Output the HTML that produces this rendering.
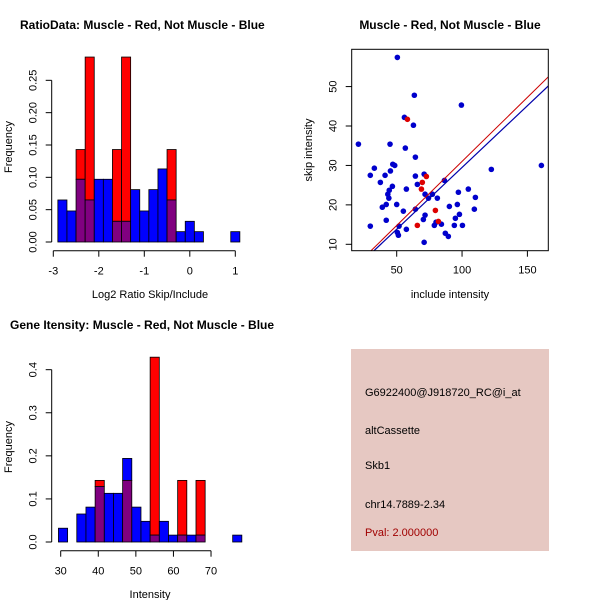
<!DOCTYPE html>
<html><head><meta charset="utf-8"><style>
html,body{margin:0;padding:0;background:#fff}
svg{display:block;font-family:"Liberation Sans",Arial,sans-serif}
</style></head><body>
<svg id="s" width="600" height="600" viewBox="0 0 600 600" xmlns="http://www.w3.org/2000/svg">
<rect width="600" height="600" fill="#fff"/>
<text x="20" y="29" font-size="12" font-weight="bold">RatioData: Muscle - Red, Not Muscle - Blue</text>
<text x="450" y="29" font-size="12" font-weight="bold" text-anchor="middle">Muscle - Red, Not Muscle - Blue</text>
<text x="10" y="329" font-size="12" font-weight="bold">Gene Itensity: Muscle - Red, Not Muscle - Blue</text>
<g id="p1"></g>
<g id="p2"></g>
<g id="p3"></g>
<g>
<rect x="351" y="349" width="198" height="202" fill="#e6c8c2"/>
<text x="365" y="396" font-size="11">G6922400@J918720_RC@i_at</text>
<text x="365" y="434" font-size="11">altCassette</text>
<text x="365" y="469" font-size="11">Skb1</text>
<text x="365" y="508" font-size="11">chr14.7889-2.34</text>
<text x="365" y="536" font-size="11" fill="#a00000">Pval: 2.000000</text>
</g>
</svg>
<script>
// Histogram 1 data
const ratioBinStart = -2.9;
const ratioBinWidth = 0.2;
const ratioBlue = [0.065,0.048,0.097,0.065,0.097,0.097,0.032,0.032,0.081,0.048,0.081,0.113,0.065,0.016,0.032,0.016,0,0,0,0.016];
const ratioRed  = [0,0,0.143,0.286,0,0,0.143,0.286,0,0,0,0,0.143,0,0,0,0,0,0,0];
const ratioXTicks = [-3,-2,-1,0,1];
const ratioYTicks = [0,0.05,0.10,0.15,0.20,0.25];
const ratioYLabels = ["0.00","0.05","0.10","0.15","0.20","0.25"];
// Histogram 2 data
const intBinStart = 29.4;
const intBinWidth = 2.44;
const intBlue = [0.032,0,0.065,0.081,0.129,0.113,0.113,0.194,0.081,0.048,0.016,0.048,0.016,0.016,0.016,0.016,0,0,0,0.016];
const intRed  = [0,0,0,0,0.143,0,0,0.143,0,0,0.429,0,0,0.143,0,0.143,0,0,0,0];
const intXTicks = [30,40,50,60,70];
const intYTicks = [0,0.1,0.2,0.3,0.4];
const intYLabels = ["0.0","0.1","0.2","0.3","0.4"];
// Scatter data
const blueX = [20.7,50.5,63.5,99.5,55.9,62.8,44.9,56.6,64.3,29.8,32.9,41.1,47,48.5,45.2,37.5,46.7,57.4,64.3,65.8,71,86.5,71.7,74.3,77.3,81.1,43.2,44.3,44,39,42,50,42,29.8,55.1,64.3,71.7,70.4,51.8,57.4,50.5,51.3,71,78.8,80.1,84.2,87.2,89.5,90.3,96.4,97.2,94.9,98,94.1,100.3,104.8,110.2,109.4,122.4,160.7];
const blueY = [35.4,57.4,47.8,45.3,42.2,40.2,35.4,34.4,32.1,27.5,29.3,27.5,30.3,30,28.6,25.7,24.7,24,27.3,25.2,27.8,26.2,22.7,21.7,22.7,21.7,22.7,23.7,21.7,19.4,20.1,20.1,16.1,14.6,18.4,18.9,17.4,16.3,14.6,13.8,13,12.3,10.5,14.8,15.6,15.1,12.8,12,19.6,20.1,23.2,16.6,17.6,14.8,14.8,24,21.9,18.9,29,30];
const redX = [58.2,72.7,69.6,68.9,79.6,81.9,65.8];
const redY = [41.7,27.2,25.7,24,18.6,15.8,14.8];
const redLine = [[30.4,8.4],[166.1,52.5]];
const blueLine = [[32.7,8.4],[166.1,50.2]];
const scatterXTicks = [50,100,150];
const scatterYTicks = [10,20,30,40,50];

const NS="http://www.w3.org/2000/svg";
function mk(parent,tag,attrs){const e=document.createElementNS(NS,tag);for(const k in attrs)e.setAttribute(k,attrs[k]);parent.appendChild(e);return e;}

function hist(g,o){
  const X=v=>o.x0+(v-o.xv0)*o.xs, Y=v=>o.y0-v*o.ys;
  for(let i=0;i<o.blue.length;i++){
    const a=X(o.start+i*o.w), b=X(o.start+(i+1)*o.w), bl=o.blue[i], rd=o.red[i];
    const lo=Math.min(bl,rd), hi=Math.max(bl,rd);
    if(hi<=0) continue;
    const top=mk(g,'rect',{x:a,y:Y(hi),width:b-a,height:Y(lo)-Y(hi),fill:rd>bl?'#ff0000':'#0000ff',stroke:'#000','stroke-width':0.8});
    
    
    if(lo>0){
      const p=mk(g,'rect',{x:a,y:Y(lo),width:b-a,height:Y(0)-Y(lo),fill:'#800080',stroke:'#000','stroke-width':0.8});
      
      
    }
  }
  const ax=mk(g,'line',{x1:X(o.xt[0]),x2:X(o.xt[o.xt.length-1]),y1:o.ay,y2:o.ay,stroke:'#000'});
  
  
  o.xt.forEach(t=>{
    mk(g,'line',{x1:X(t),x2:X(t),y1:o.ay,y2:o.ay+6,stroke:'#000'});
    const tx=mk(g,'text',{x:X(t),y:o.ay+24,'font-size':11,'text-anchor':'middle'});tx.textContent=t;
    
    
  });
  const ay=mk(g,'line',{x1:o.ax,x2:o.ax,y1:Y(o.yt[0]),y2:Y(o.yt[o.yt.length-1]),stroke:'#000'});
  
  
  o.yt.forEach((t,i)=>{
    mk(g,'line',{x1:o.ax-6,x2:o.ax,y1:Y(t),y2:Y(t),stroke:'#000'});
    const tx=mk(g,'text',{x:o.ax-15,y:Y(t),'font-size':11,'text-anchor':'middle',transform:`rotate(-90 ${o.ax-15} ${Y(t)})`});tx.textContent=o.yl[i];
    
    
  });
  const xl=mk(g,'text',{x:o.xlx,y:o.xly,'font-size':11,'text-anchor':'middle'});xl.textContent=o.xlab;
  
  
  const yl=mk(g,'text',{x:12,y:o.yly,'font-size':11,'text-anchor':'middle',transform:`rotate(-90 12 ${o.yly})`});yl.textContent='Frequency';
  
  
}
hist(document.getElementById('p1'),{x0:53.3,xv0:-3,xs:45.5,y0:242,ys:646.7,start:ratioBinStart,w:ratioBinWidth,blue:ratioBlue,red:ratioRed,xt:ratioXTicks,yt:ratioYTicks,yl:ratioYLabels,ay:250.7,ax:51.7,xlab:'Log2 Ratio Skip/Include',xlx:150,xly:298,yly:147});
hist(document.getElementById('p3'),{x0:60.7,xv0:30,xs:3.758,y0:542,ys:430.8,start:intBinStart,w:intBinWidth,blue:intBlue,red:intRed,xt:intXTicks,yt:intYTicks,yl:intYLabels,ay:550.7,ax:51.7,xlab:'Intensity',xlx:150,xly:598,yly:447});

(function(){
  const g=document.getElementById('p2');
  const X=v=>396.7+(v-50)*1.307, Y=v=>244.3-(v-10)*3.943;
  const L=351.7,R=548.3,T=49.3,B=250.7;
  mk(g,'defs',{}).innerHTML='<clipPath id="clp"><rect x="'+L+'" y="'+T+'" width="'+(R-L)+'" height="'+(B-T)+'"/></clipPath>';
  for(let i=0;i<blueX.length;i++){
    const c=mk(g,'circle',{cx:X(blueX[i]),cy:Y(blueY[i]),r:2.8,fill:'#0000cc'});
    
    
  }
  for(let i=0;i<redX.length;i++){
    const c=mk(g,'circle',{cx:X(redX[i]),cy:Y(redY[i]),r:2.8,fill:'#dd0000'});
    
    
  }
  const l1=mk(g,'line',{x1:X(redLine[0][0]),y1:Y(redLine[0][1]),x2:X(redLine[1][0]),y2:Y(redLine[1][1]),stroke:'#cc0000','stroke-width':1,'clip-path':'url(#clp)'});
  
  
  const l2=mk(g,'line',{x1:X(blueLine[0][0]),y1:Y(blueLine[0][1]),x2:X(blueLine[1][0]),y2:Y(blueLine[1][1]),stroke:'#0000aa','stroke-width':1.2,'clip-path':'url(#clp)'});
  
  
  const box=mk(g,'rect',{x:L,y:T,width:R-L,height:B-T,fill:'none',stroke:'#000'});
  
  
  scatterXTicks.forEach(t=>{
    mk(g,'line',{x1:X(t),x2:X(t),y1:B,y2:B+6,stroke:'#000'});
    const tx=mk(g,'text',{x:X(t),y:B+23,'font-size':11,'text-anchor':'middle'});tx.textContent=t;
    
    
  });
  scatterYTicks.forEach(t=>{
    mk(g,'line',{x1:L-6,x2:L,y1:Y(t),y2:Y(t),stroke:'#000'});
    const tx=mk(g,'text',{x:L-15,y:Y(t),'font-size':11,'text-anchor':'middle',transform:`rotate(-90 ${L-15} ${Y(t)})`});tx.textContent=t;
    
    
  });
  const xl=mk(g,'text',{x:450,y:298,'font-size':11,'text-anchor':'middle'});xl.textContent='include intensity';
  
  
  const yl=mk(g,'text',{x:312,y:150,'font-size':11,'text-anchor':'middle',transform:'rotate(-90 312 150)'});yl.textContent='skip intensity';
  
  
})();
</script>
</body></html>
